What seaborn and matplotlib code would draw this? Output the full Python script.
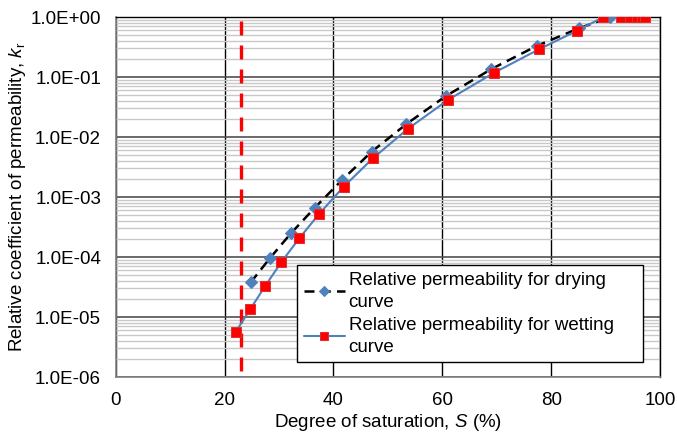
import numpy as np
import matplotlib
matplotlib.use("Agg")
import matplotlib.pyplot as plt
from matplotlib.ticker import LogLocator, FuncFormatter, NullFormatter
import seaborn as sns

# drying curve (blue diamonds, black dashed line)
s_dry = [24.8, 28.4, 32.2, 36.6, 41.5, 47.0, 53.4, 60.6, 69.0, 77.4, 85.1, 90.8]
kr_dry = [3.8e-5, 9.8e-5, 2.5e-4, 6.7e-4, 1.9e-3, 5.7e-3, 1.65e-2, 4.8e-2,
          0.136, 0.333, 0.65, 1.0]

# wetting curve (red squares, blue line)
s_wet = [22.0, 24.7, 27.4, 30.4, 33.7, 37.4, 41.9, 47.2, 53.6, 61.1, 69.5,
         77.7, 84.7, 89.6, 92.8, 94.5, 95.7, 96.6, 97.3]
kr_wet = [5.6e-6, 1.35e-5, 3.25e-5, 8.2e-5, 2.05e-4, 5.3e-4, 1.5e-3, 4.4e-3,
          1.36e-2, 4.2e-2, 0.118, 0.289, 0.59, 1.0, 1.0, 1.0, 1.0, 1.0, 1.0]

s_residual = 23.0
y_ticks = [1e-6, 1e-5, 1e-4, 1e-3, 1e-2, 1e-1, 1e0]
x_ticks = [0, 20, 40, 60, 80, 100]

sns.set_style("white")
plt.rcParams['font.family'] = ['Liberation Sans', 'DejaVu Sans']
plt.rcParams['mathtext.fontset'] = 'custom'
plt.rcParams['mathtext.rm'] = 'Liberation Sans'
plt.rcParams['mathtext.it'] = 'Liberation Sans:italic'
plt.rcParams['text.color'] = 'black'
plt.rcParams['axes.labelcolor'] = 'black'

fs = 13.5
fig = plt.figure(figsize=(6.77, 4.38), dpi=100)
ax = fig.add_axes([0.171, 0.139, 0.804, 0.822])

blue = '#4F81BD'
sns.lineplot(x=s_dry, y=kr_dry, ax=ax, color='black', linestyle=(0, (4, 2.5)),
             linewidth=1.8, marker='D', markersize=6, markerfacecolor=blue,
             markeredgecolor=blue, sort=False, zorder=4,
             label='Relative permeability for drying\ncurve')
sns.lineplot(x=s_wet, y=kr_wet, ax=ax, color=blue, linewidth=1.5, marker='s',
             markersize=7, markerfacecolor='#FF0000', markeredgecolor='#E03030',
             sort=False, zorder=5,
             label='Relative permeability for wetting\ncurve')
ax.axvline(s_residual, color='#FF0000', linewidth=2.4, linestyle=(0, (4.2, 3)),
           ymin=0.99, ymax=0.0, zorder=3)

ax.set_yscale('log')
ax.set_xlim(0, 100)
ax.set_ylim(1e-6, 1.0)
ax.set_xticks(x_ticks)
ax.set_yticks(y_ticks)
ax.yaxis.set_minor_locator(LogLocator(base=10, subs=np.arange(2, 10), numticks=20))
ax.yaxis.set_major_formatter(FuncFormatter(lambda v, p: f"{v:.1E}"))
ax.yaxis.set_minor_formatter(NullFormatter())

ax.grid(True, which='major', axis='y', color='#505050', linewidth=1.2, zorder=0)
ax.grid(True, which='minor', axis='y', color='#C8C8C8', linewidth=1.0, zorder=0)
ax.grid(True, which='major', axis='x', color='black', linewidth=1.0,
        linestyle='-', zorder=0)
ax.set_axisbelow(True)

ax.tick_params(axis='both', which='major', direction='out', length=3.6, width=1,
               color='#808080', labelcolor='black', labelsize=fs, pad=7)
ax.tick_params(axis='y', which='minor', length=0)
for side in ['left', 'bottom']:
    ax.spines[side].set_color('#808080')
    ax.spines[side].set_linewidth(1.2)
for side in ['top', 'right']:
    ax.spines[side].set_color('black')
    ax.spines[side].set_linewidth(1.0)

ax.set_xlabel(r'Degree of saturation, $\mathit{S}$ (%)', fontsize=fs, labelpad=2)
ax.set_ylabel(r'Relative coefficient of permeability, $\mathit{k}_\mathregular{r}$',
              fontsize=fs, labelpad=1.5)

leg = ax.legend(loc='upper left', bbox_to_anchor=(0.333, 0.0, 0.636, 0.311),
                mode='expand', fontsize=fs, frameon=True, fancybox=False,
                borderaxespad=0, borderpad=0.35, handlelength=2.2,
                handletextpad=0.2, labelspacing=0.3)
leg.get_frame().set_edgecolor('black')
leg.get_frame().set_linewidth(1.0)
leg.get_frame().set_alpha(1.0)
for h in leg.legend_handles:
    h.set_markersize(5.5)
for t in leg.get_texts():
    t.set_linespacing(1.4)
    t.set_color('black')

plt.savefig('out.png', dpi=100)
